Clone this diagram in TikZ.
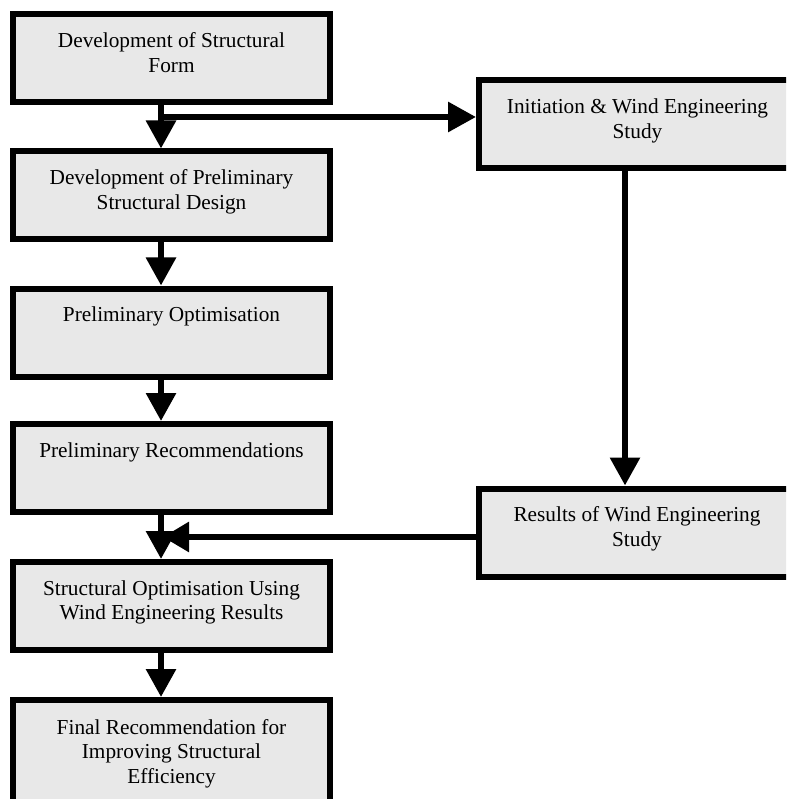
\documentclass[tikz,border=0pt]{standalone}
\usepackage{fontspec}
\setmainfont{Liberation Serif}
\usetikzlibrary{arrows.meta}
\definecolor{boxgray}{RGB}{232,232,232}
\newcommand{\bxt}[2][56pt]{\vbox to #1{\hsize=300pt\centering\leavevmode\strut#2\strut\par\vss}}
\begin{document}
\begin{tikzpicture}[x=1pt,y=-1pt,
  flowbox/.style={draw=black, fill=boxgray, line width=6pt, rectangle,
    minimum width=317pt, minimum height=88pt, inner sep=0pt,
    font=\fontsize{21.3}{24.5}\selectfont},
  arr/.style={line width=6pt, -{Triangle[width=29pt,length=28pt]}},
  arrs/.style={line width=6pt, -{Triangle[width=29pt,length=26pt]}}]
\useasboundingbox (0,0) rectangle (786,799);
\begin{scope}
\clip (0,0) rectangle (786,799);
\node[flowbox] (b1) at (171.5,58.5) {\bxt{Development of Structural\\Form}};
\node[flowbox] (b2) at (171.5,195.5) {\bxt{Development of Preliminary\\Structural Design}};
\node[flowbox] (b3) at (171.5,332.5) {\bxt{Preliminary Optimisation}};
\node[flowbox] (b4) at (171.5,468) {\bxt{Preliminary Recommendations}};
\node[flowbox] (b5) at (171.5,606) {\bxt{Structural Optimisation Using\\Wind Engineering Results}};
\node[flowbox, minimum height=124pt] (b6) at (171.5,762) {\bxt[90pt]{Final Recommendation for\\Improving Structural\\Efficiency}};
\node[flowbox] (init) at (637.5,124.5) {\bxt{Initiation \& Wind Engineering\\Study}};
\node[flowbox] (res) at (637,532.5) {\bxt{Results of Wind Engineering\\Study}};

\coordinate (j1) at (161,117);
\coordinate (j2) at (163,537);

\draw[arr] (b1.south -| j1) -- (b2.north -| j1);
\draw[arr] (j1) -- (j1 -| init.west);
\draw[arr] (b2.south -| j1) -- (b3.north -| j1);
\draw[arr] (b3.south -| j1) -- (b4.north -| j1);
\draw[arr] (b4.south -| j1) -- (b5.north -| j1);
\draw[arrs] (res.west |- j2) -- (j2);
\draw[arr] (b5.south -| j1) -- (b6.north -| j1);
\draw[arr] (init.south -| 625,0) -- (res.north -| 625,0);
\end{scope}
\end{tikzpicture}
\end{document}
